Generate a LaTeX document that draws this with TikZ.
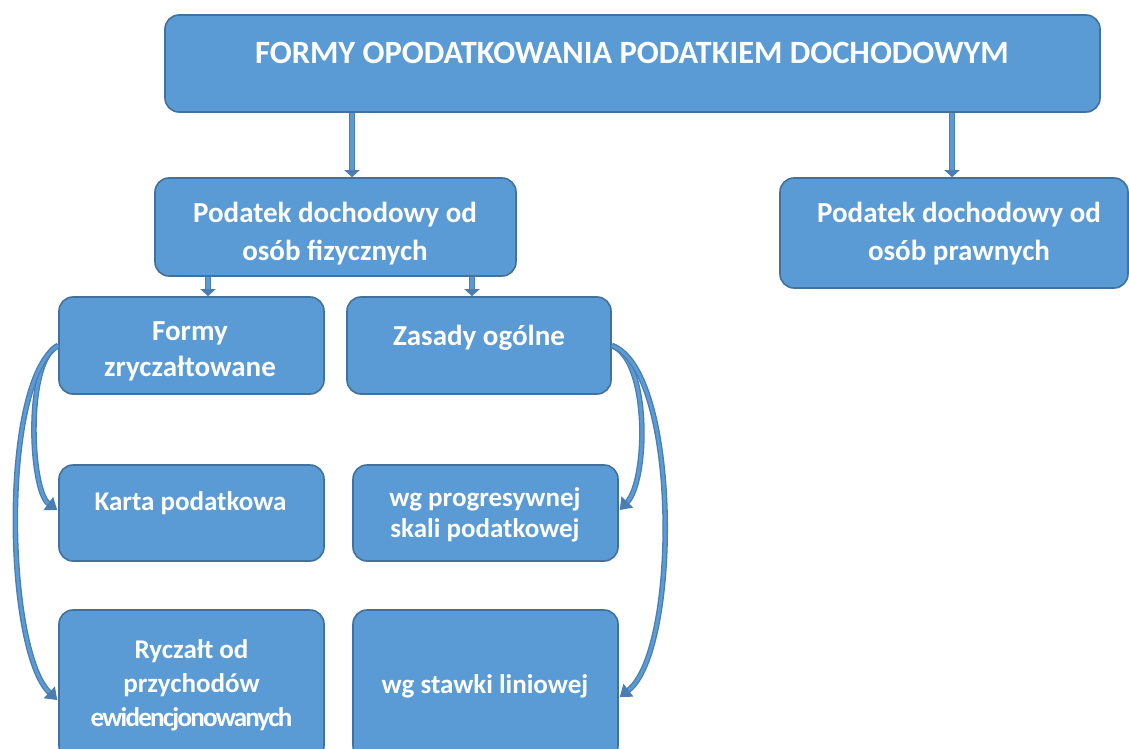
\documentclass[tikz,border=0pt]{standalone}
\usepackage{fontspec}
\setmainfont{Carlito}
\newfontfamily\condfont[LetterSpace=-6.5]{Carlito}
\usetikzlibrary{arrows.meta,calc}
\definecolor{boxfill}{HTML}{5B9BD5}
\definecolor{boxline}{HTML}{41719C}
\definecolor{arrc}{HTML}{4A7DB0}
\tikzset{
  box/.style={draw=boxline, line width=1.6pt, fill=boxfill, rounded corners=14pt, inner sep=0pt},
  lbl/.style={text=white, font=\bfseries, align=center, inner sep=0pt},
  barrow/.style={draw=arrc, line width=1.3pt, double=boxfill, double distance=3.6pt,
    -{Triangle[length=7pt,width=15pt,fill=arrc]}},
  carrow/.style={draw=arrc, line width=1.3pt, double=boxfill, double distance=3pt,
    -{Triangle[length=11pt,width=16pt,fill=arrc]}},
}
\begin{document}
\begin{tikzpicture}[x=1pt,y=-1pt]
\useasboundingbox (0,0) rectangle (1129,749);
% boxes
\node[box, minimum width=935pt, minimum height=97pt] (top) at (632.5,63.5) {};
\node[box, minimum width=361pt, minimum height=98pt] (pdof) at (335.5,227) {};
\node[box, minimum width=348pt, minimum height=110pt] (pdop) at (954,233) {};
\node[box, minimum width=265pt, minimum height=97pt] (formy) at (191.5,345.5) {};
\node[box, minimum width=264pt, minimum height=97pt] (zasady) at (479,345.5) {};
\node[box, minimum width=265pt, minimum height=96pt] (karta) at (191.5,513) {};
\node[box, minimum width=265pt, minimum height=96pt] (prog) at (485.5,513) {};
\node[box, minimum width=265pt, minimum height=150pt] (rycz) at (191.5,685) {};
\node[box, minimum width=265pt, minimum height=150pt] (stawki) at (485.5,685) {};
% labels
\node[lbl, font=\bfseries\fontsize{32.5}{38}\selectfont] (ttop) at (632,52.5) {FORMY OPODATKOWANIA PODATKIEM DOCHODOWYM};
\node[lbl, font=\bfseries\fontsize{29}{38}\selectfont] (tpdof) at (335,234) {Podatek dochodowy od\\osób fizycznych};
\node[lbl, font=\bfseries\fontsize{29}{38}\selectfont] (tpdop) at (959,234) {Podatek dochodowy od\\osób prawnych};
\node[lbl, font=\bfseries\fontsize{29}{36}\selectfont] (tformy) at (190,351) {Formy\\zryczałtowane};
\node[lbl, font=\bfseries\fontsize{29}{36}\selectfont] (tzasady) at (479,338) {Zasady ogólne};
\node[lbl, font=\bfseries\fontsize{27}{31}\selectfont] (tkarta) at (190.5,503) {Karta podatkowa};
\node[lbl, font=\bfseries\fontsize{27}{31}\selectfont] (tprog) at (485,515) {wg progresywnej\\skali podatkowej};
\node[lbl, font=\bfseries\fontsize{27}{34}\selectfont] (trycz) at (191.5,685) {Ryczałt od\\przychodów\\{\condfont\bfseries\fontsize{27}{34}\selectfont ewidencjonowanych}};
\node[lbl, font=\bfseries\fontsize{27}{31}\selectfont] (tstawki) at (485,686) {wg stawki liniowej};
% straight arrows
\draw[barrow] (top.south -| 352,0) -- (pdof.north -| 352,0);
\draw[barrow] (top.south -| 952,0) -- (pdop.north -| 952,0);
\draw[barrow] (pdof.south -| 208,0) -- (formy.north -| 208,0);
\draw[barrow] (pdof.south -| 472,0) -- (zasady.north -| 472,0);
% curved arrows
\draw[carrow] (formy.west) .. controls (25,360) and (30,490) .. ($(karta.west)+(-1,-3)$);
\draw[carrow] (formy.west) .. controls (0,380) and (5,650) .. ($(rycz.west)+(-1,15)$);
\draw[carrow] (zasady.east) .. controls (650,360) and (648,480) .. ($(prog.east)+(1,-3)$);
\draw[carrow] (zasady.east) .. controls (680,370) and (680,650) .. ($(stawki.east)+(1,12)$);
\end{tikzpicture}
\end{document}
